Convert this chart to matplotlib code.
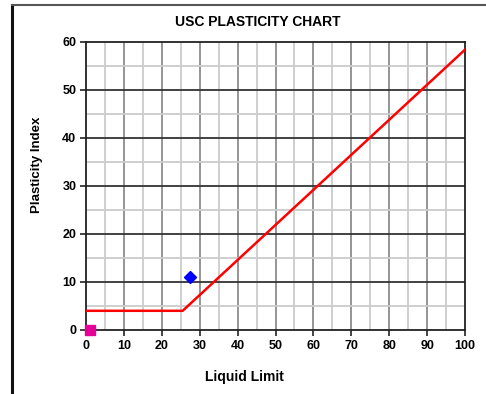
import matplotlib
matplotlib.use("Agg")
import matplotlib.pyplot as plt
from matplotlib.lines import Line2D
from matplotlib.ticker import MultipleLocator

plt.rcParams['font.family'] = ['Liberation Sans', 'DejaVu Sans']

# A-line break points (Liquid Limit, Plasticity Index)
aline_ll = [0, 25.5, 100]
aline_pi = [4, 4, 58.4]

# Sample results
sample_ll = [27.5]
sample_pi = [11]
origin_ll = [1]
origin_pi = [0]

x_ticks = list(range(0, 101, 10))
y_ticks = list(range(0, 61, 10))

W, H = 486, 394
fig = plt.figure(figsize=(W / 100, H / 100), dpi=100)
ax = fig.add_axes([86 / W, 64 / H, 379 / W, 288 / H])

ax.set_xlim(0, 100)
ax.set_ylim(0, 60)
ax.set_xticks(x_ticks)
ax.set_yticks(y_ticks)
ax.xaxis.set_minor_locator(MultipleLocator(5))
ax.yaxis.set_minor_locator(MultipleLocator(5))

ax.grid(False)
for v in range(5, 100, 5):
    ax.axvline(v, color='#8c8c8c' if v % 10 == 0 else '#cccccc', lw=1.3, zorder=1)
for v in range(5, 60, 5):
    ax.axhline(v, color='#333333' if v % 10 == 0 else '#cccccc', lw=1.3, zorder=1)

ax.plot(aline_ll, aline_pi, color='#ff0000', lw=1.8, zorder=3, solid_joinstyle='miter')
ax.plot(sample_ll, sample_pi, marker='D', color='#0000ff', ms=6, ls='none', zorder=4)
ax.plot(origin_ll, origin_pi, marker='s', color='#e6009a', ms=7, ls='none', zorder=5, clip_on=False)

for s in ax.spines.values():
    s.set_color('#222222')
    s.set_linewidth(1.3)

ax.tick_params(which='major', direction='out', length=4, width=1.2, color='#222222',
               labelsize=9, pad=3)
ax.tick_params(which='minor', length=0)
for lab in ax.get_xticklabels() + ax.get_yticklabels():
    lab.set_fontweight('bold')

# title and axis labels, placed in figure pixels
fig.text(257.5 / W, 1 - 22 / H, 'USC PLASTICITY CHART', fontsize=10, fontweight='bold',
         ha='center', va='center')
fig.text(244.5 / W, 1 - 377 / H, 'Liquid Limit', fontsize=10, fontweight='bold',
         ha='center', va='center')
fig.text(37 / W, 1 - 165 / H, 'Plasticity Index', fontsize=9.5, fontweight='bold',
         ha='center', va='center', rotation=90)

# outer border (left and top edges)
fig.add_artist(Line2D([11.5 / W, 11.5 / W], [0, 1 - 5 / H], transform=fig.transFigure,
                      color='#111111', lw=2.2))
fig.add_artist(Line2D([11.5 / W, 1], [1 - 5 / H, 1 - 5 / H], transform=fig.transFigure,
                      color='#555555', lw=1.5))

fig.savefig('out.png', dpi=100)
